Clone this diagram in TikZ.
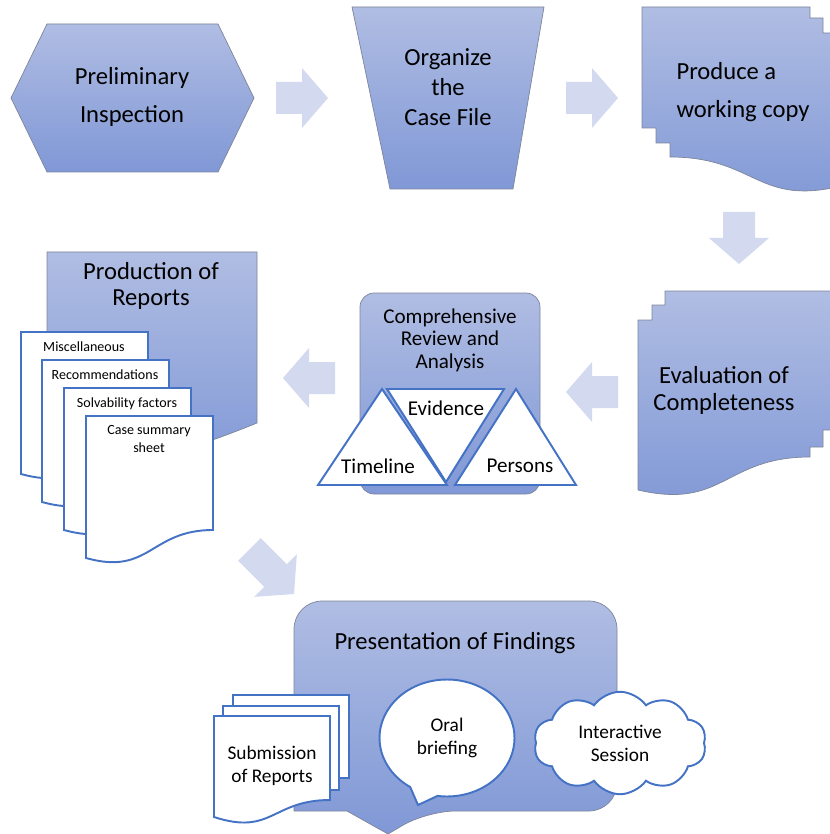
\documentclass[tikz,border=0pt]{standalone}
\usepackage{fontspec}
\setmainfont{Carlito}
\usetikzlibrary{shapes.symbols,shapes.callouts}

\definecolor{formarriba}{RGB}{176,189,227}
\definecolor{formabajo}{RGB}{128,152,214}
\definecolor{bordegris}{RGB}{125,133,155}
\definecolor{azul}{RGB}{68,114,196}
\definecolor{flechacol}{RGB}{211,217,238}

\tikzset{
	forma/.style={draw=bordegris, line width=0.4pt, top color=formarriba, bottom color=formabajo},
	hoja/.style={draw=azul, line width=1.1pt, fill=white},
	flechafill/.style={fill=flechacol},
	grande/.style={font=\fontsize{14}{21.5}\selectfont, align=center},
	mediano/.style={font=\fontsize{12}{12.8}\selectfont, align=center},
	chico/.style={font=\fontsize{11}{13}\selectfont, align=center},
	mini/.style={font=\fontsize{8}{10}\selectfont, align=center},
}

% flecha de bloque: punta, giro, largo del tallo
\newcommand{\flecha}[3][26]{%
	\fill[flechafill, shift={#2}, rotate=#3] (0,0) -- (-26,-30) -- (-26,-16) -- ({-26-#1},-16) -- ({-26-#1},16) -- (-26,16) -- (-26,30) -- cycle;}

\begin{document}
\begin{tikzpicture}[x=0.02cm, y=-0.02cm]
	\useasboundingbox (0,0) rectangle (830,834);
	\clip (0,0) rectangle (830,834);
		% Fila de arriba
			\draw[forma] (47,24) -- (218,24) -- (254,98) -- (218,172) -- (47,172) -- (11,98) -- cycle;
			\node[grande] (prelim) at (132,97) {Preliminary\\Inspection};
			\draw[forma] (352,7) -- (544,7) -- (513,189) -- (390,189) -- cycle;
			\node[grande, font=\fontsize{14}{17}\selectfont] (organizar) at (448,87) {Organize\\the\\Case File};
			\draw[forma] (642,7) -- (810,7) -- (810,18) -- (823,18) -- (823,33) -- (845,33) -- (845,185) .. controls (757,208) and (757,157) .. (670,157) -- (670,143) -- (656,143) -- (656,128) -- (642,128) -- cycle;
			\node[grande, align=left] (copia) at (743,92) {Produce a\\working copy};
		% Evaluacion
			\draw[forma] (665,291) -- (845,291) -- (845,430) -- (823,430) -- (823,447) -- (810,447) -- (810,457) .. controls (724,457) and (724,510) .. (638,490) -- (638,320) -- (652,320) -- (652,305) -- (665,305) -- cycle;
			\node[grande, font=\fontsize{14}{15.3}\selectfont] (evaluacion) at (724,390) {Evaluation of\\Completeness};
		% Revision
			\draw[forma, rounded corners=8pt] (360,293) rectangle (540,494);
			\node[mediano] (revision) at (450,340) {Comprehensive\\Review and\\Analysis};
			\draw[hoja] (382,389) -- (447,485) -- (318,485) -- cycle;
			\draw[hoja] (387,389) -- (504,389) -- (446,482) -- cycle;
			\draw[hoja] (516,389) -- (576,485) -- (455,485) -- cycle;
			\node[mediano] (timeline) at (378,466) {Timeline};
			\node[mediano] (evidence) at (446,408) {Evidence};
			\node[mediano] (persons) at (520,466) {Persons};
		% Reportes
			\draw[forma] (47,252) -- (257,252) -- (257,423) .. controls (190,450) and (120,475) .. (47,452) -- cycle;
			\node[grande, font=\fontsize{14}{15.3}\selectfont] (produccion) at (151,286) {Production of\\Reports};
			\foreach \x/\y/\txt [count=\i] in {21/332/Miscellaneous, 42/360/Recommendations, 64/388/Solvability factors, 86/416/{Case summary\\sheet}} {
				\draw[hoja, shift={(\x,\y)}] (0,0) -- (127,0) -- (127,114) .. controls (64,114) and (64,160) .. (0,142) -- cycle;
				\node[mini, anchor=north, inner sep=0] (hoja\i) at (\x+63,\y+9) {\txt};
			}
		% Presentacion
			\draw[forma, rounded corners=16pt] (294,700) -- (294,601) -- (617,601) -- (617,811) -- (427,811) [sharp corners] -- (388,834) -- (347,811) -- (294,811) [rounded corners=16pt] -- cycle;
			\node[grande] (presentacion) at (455,643) {Presentation of Findings};
			\draw[hoja] (233,695) rectangle (349,778);
			\draw[hoja] (223,706) rectangle (339,790);
			\draw[hoja] (214,716) -- (330,716) -- (330,800) .. controls (272,800) and (272,836) .. (214,817) -- cycle;
			\node[chico] (entrega) at (272,766) {Submission\\of Reports};
			\node[ellipse callout, draw=azul, line width=1.1pt, fill=white, minimum width=2.7cm, minimum height=2.34cm, inner sep=0, callout absolute pointer={(418,805)}, callout pointer arc=25, chico] (oral) at (447,738) {Oral\\briefing};
			\node[cloud, draw=azul, line width=1.1pt, fill=white, cloud puffs=10, cloud puff arc=110, aspect=1.8, cloud ignores aspect, minimum width=3.45cm, minimum height=2.05cm, inner sep=0, chico] (sesion) at (620,743) {Interactive\\Session};
		% Flechas
			\flecha{(328,98)}{0}
			\flecha{(618,98)}{0}
			\flecha{(739,264)}{-90}
			\flecha{(566,392)}{180}
			\flecha{(283,378)}{180}
			\flecha[37]{(294,594)}{-45}
\end{tikzpicture}
\end{document}
